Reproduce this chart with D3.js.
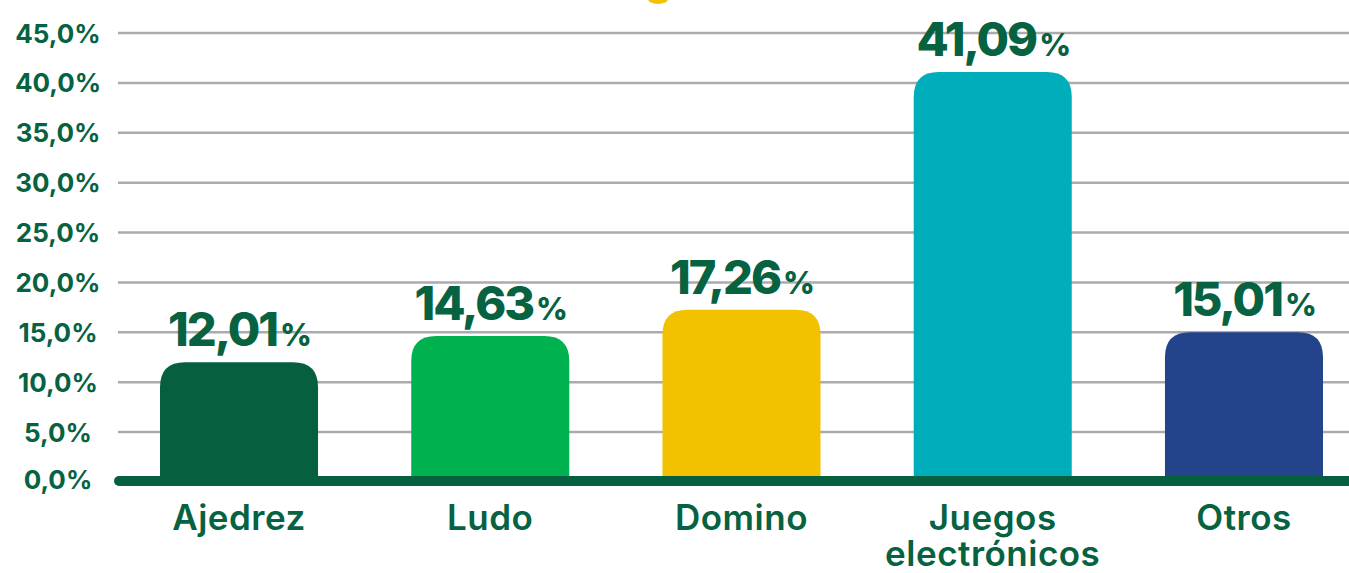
<!DOCTYPE html>
<html>
<head>
<meta charset="utf-8">
<script src="https://cdn.jsdelivr.net/npm/d3@7"></script>
<style>
  html, body { margin: 0; padding: 0; background: #ffffff; }
  svg { display: block; }
  text { font-family: Inter, "Noto Sans", sans-serif; }
</style>
</head>
<body>
<svg id="chart" width="1349" height="573"></svg>
<script>
const categories = ["Ajedrez", "Ludo", "Domino", "Juegos electrónicos", "Otros"];
const categoryLines = [["Ajedrez"], ["Ludo"], ["Domino"], ["Juegos", "electrónicos"], ["Otros"]];
const values = [12.01, 14.63, 17.26, 41.09, 15.01];
const valueLabels = ["12,01", "14,63", "17,26", "41,09", "15,01"];
const barColors = ["#06603F", "#00B14F", "#F2C200", "#00AEBB", "#23438A"];
const yTicks = [0, 5, 10, 15, 20, 25, 30, 35, 40, 45];
const yTickLabels = ["0,0%", "5,0%", "10,0%", "15,0%", "20,0%", "25,0%", "30,0%", "35,0%", "40,0%", "45,0%"];

const W = 1349, H = 573;
const textColor = "#066241";
const svg = d3.select("#chart");

const y = d3.scaleLinear().domain([0, 45]).range([482, 33]);
const x = d3.scaleBand().domain(categories).range([113.4, 1369.6]).paddingInner(0.371).paddingOuter(0.1855);

// decorative sliver at top (cropped title ornament)
svg.append("ellipse").attr("cx", 658).attr("cy", -1).attr("rx", 10).attr("ry", 5)
  .attr("fill", "#F2C200");

// gridlines
svg.append("g").selectAll("line").data(yTicks.filter(d => d > 0)).join("line")
  .attr("x1", 118).attr("x2", W)
  .attr("y1", d => y(d)).attr("y2", d => y(d))
  .attr("stroke", "#ABABAE").attr("stroke-width", 2.5);

// y tick labels
svg.append("g").selectAll("text").data(yTicks).join("text")
  .attr("x", 58).attr("y", d => y(d) + (d === 0 ? -3 : 0))
  .attr("text-anchor", "middle").attr("dominant-baseline", "central")
  .attr("fill", textColor).attr("font-size", 26).attr("font-weight", 700)
  .text((d, i) => yTickLabels[i]);

// bars with rounded top corners
const r = 25;
function barPath(x0, w, yTop, yBot) {
  const rr = Math.min(r, (yBot - yTop), w / 2);
  return `M${x0},${yBot} L${x0},${yTop + rr} Q${x0},${yTop} ${x0 + rr},${yTop} L${x0 + w - rr},${yTop} Q${x0 + w},${yTop} ${x0 + w},${yTop + rr} L${x0 + w},${yBot} Z`;
}
svg.append("g").selectAll("path").data(categories).join("path")
  .attr("d", (c, i) => barPath(x(c), x.bandwidth(), y(values[i]), y(0)))
  .attr("fill", (c, i) => barColors[i]);

// baseline
svg.append("line").attr("x1", 119).attr("x2", W + 10)
  .attr("y1", 481).attr("y2", 481)
  .attr("stroke", "#06603F").attr("stroke-width", 10).attr("stroke-linecap", "round");

// value labels
const vl = svg.append("g").selectAll("text").data(categories).join("text")
  .attr("x", c => x(c) + x.bandwidth() / 2)
  .attr("y", (c, i) => y(values[i]) - 16)
  .attr("text-anchor", "middle")
  .attr("fill", textColor).attr("font-weight", 800)
  .attr("letter-spacing", -2);
vl.append("tspan").attr("font-size", 47).text((c, i) => valueLabels[i]);
vl.append("tspan").attr("font-size", 31).attr("dx", 3).text("%");

// category labels
const cl = svg.append("g").selectAll("text").data(categories).join("text")
  .attr("x", c => x(c) + x.bandwidth() / 2)
  .attr("y", 530)
  .attr("text-anchor", "middle")
  .attr("fill", textColor).attr("font-size", 35).attr("font-weight", 600)
  .attr("letter-spacing", 0.5);
cl.selectAll("tspan").data((c, i) => categoryLines[i].map((t, k) => ({ t, k, cx: x(c) + x.bandwidth() / 2 })))
  .join("tspan")
  .attr("x", d => d.cx).attr("dy", d => d.k === 0 ? 0 : 36)
  .text(d => d.t);
</script>
</body>
</html>
